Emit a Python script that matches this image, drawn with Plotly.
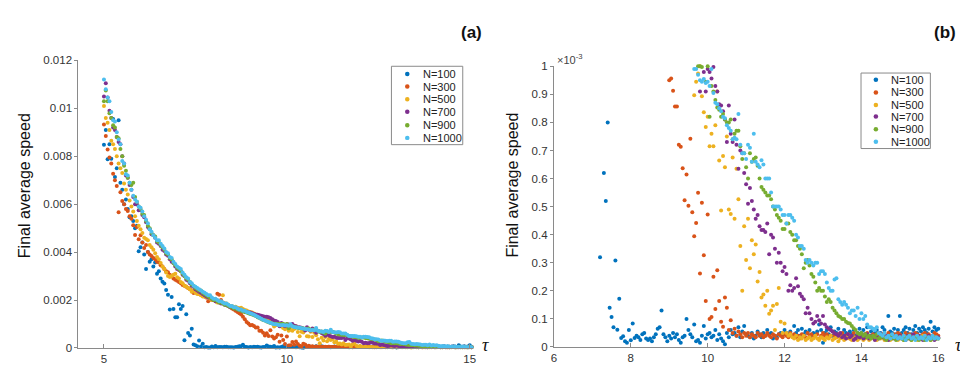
import plotly.graph_objects as go

W, H = 968, 374

# tau sampling grid (5.00 .. 16.00, step 0.05)
tau = [round(5 + 0.05 * i, 2) for i in range(221)]

# Final average speed, in units of 1e-3, one row per unit of tau
speed_N100 = [
    8.48, 9.1, 7.88, 8.5, 7.9, 9.56, 7.14, 7.5, 9.5, 6.9, 6.6, 6.0, 6.2, 5.8, 5.45, 5.5, 5.3, 5.0, 5.1, 4.04,
    4.2, 4.4, 3.9, 3.3, 4.0, 3.6, 3.7, 3.4, 3.57, 3.1, 3.2, 2.9, 2.76, 2.69, 2.42, 2.22, 1.6, 2.13, 1.62, 1.28,
    1.28, 1.82, 1.62, 1.75, 0.32, 1.41, 0.62, 0.52, 0.8, 0.14, 0.107, 0.07, 0.308, 0.061, 0.172, 0.032, 0.038, 0.02, 0.015, 0.06,
    0.024, 0.084, 0.032, 0.04, 0.035, 0.025, 0.045, 0.05, 0.03, 0.025, 0.03, 0.02, 0.035, 0.045, 0.065, 0.07, 0.13, 0.045, 0.035, 0.02,
    0.04, 0.03, 0.05, 0.035, 0.045, 0.025, 0.015, 0.035, 0.04, 0.1, 0.06, 0.045, 0.035, 0.08, 0.02, 0.025, 0.015, 0.04, 0.075, 0.03,
    0.045, 0.05, 0.035, 0.04, 0.06, 0.025, 0.045, 0.03, 0.02, 0.01, 0.05, 0.035, 0.06, 0.045, 0.05, 0.04, 0.07, 0.035, 0.055, 0.075,
    0.045, 0.04, 0.035, 0.05, 0.03, 0.04, 0.055, 0.045, 0.035, 0.05, 0.04, 0.06, 0.045, 0.05, 0.03, 0.04, 0.035, 0.045, 0.05, 0.04,
    0.06, 0.05, 0.045, 0.055, 0.04, 0.075, 0.05, 0.06, 0.04, 0.065, 0.045, 0.055, 0.05, 0.06, 0.04, 0.05, 0.045, 0.055, 0.08, 0.06,
    0.015, 0.05, 0.06, 0.045, 0.07, 0.04, 0.055, 0.05, 0.065, 0.045, 0.04, 0.06, 0.05, 0.035, 0.055, 0.045, 0.06, 0.04, 0.05, 0.065,
    0.05, 0.06, 0.045, 0.07, 0.04, 0.055, 0.065, 0.05, 0.06, 0.045, 0.05, 0.07, 0.06, 0.04, 0.11, 0.055, 0.05, 0.065, 0.045, 0.06,
    0.11, 0.05, 0.06, 0.07, 0.05, 0.065, 0.045, 0.06, 0.075, 0.05, 0.065, 0.055, 0.07, 0.06, 0.05, 0.065, 0.09, 0.055, 0.07, 0.06,
    0.065,
]

speed_N300 = [
    9.33, 8.85, 8.28, 7.95, 7.7, 7.27, 7.0, 6.76, 5.66, 6.5, 6.13, 6.0, 5.8, 5.72, 5.5, 5.39, 5.12, 4.71, 5.05, 4.54,
    4.7, 4.4, 4.17, 4.3, 4.0, 3.9, 3.84, 3.75, 3.7, 3.6, 3.57, 3.45, 3.4, 3.3, 3.2, 3.16, 3.05, 3.0, 2.9, 2.85,
    2.8, 2.75, 2.7, 2.63, 2.6, 2.55, 2.5, 2.45, 2.4, 2.29, 2.35, 2.3, 2.25, 2.22, 2.2, 2.15, 2.1, 1.95, 2.05, 2.0,
    2.0, 1.95, 2.26, 2.22, 2.0, 1.9, 1.85, 1.8, 1.75, 1.7, 1.65, 1.6, 1.55, 1.5, 1.45, 1.4, 1.3, 1.2, 1.08, 1.02,
    0.95, 0.956, 0.913, 0.857, 0.857, 0.72, 0.713, 0.637, 0.523, 0.614, 0.503, 0.742, 0.48, 0.394, 0.442, 0.549, 0.262, 0.514, 0.327, 0.164,
    0.472, 0.1, 0.107, 0.25, 0.135, 0.273, 0.164, 0.09, 0.072, 0.176, 0.14, 0.06, 0.095, 0.05, 0.065, 0.04, 0.055, 0.045, 0.035, 0.05,
    0.04, 0.05, 0.035, 0.045, 0.04, 0.035, 0.05, 0.04, 0.045, 0.035, 0.04, 0.05, 0.04, 0.035, 0.045, 0.04, 0.03, 0.045, 0.04, 0.035,
    0.045, 0.04, 0.035, 0.05, 0.04, 0.045, 0.035, 0.04, 0.03, 0.045, 0.04, 0.035, 0.05, 0.04, 0.045, 0.035, 0.04, 0.045, 0.03, 0.04,
    0.05, 0.04, 0.045, 0.035, 0.04, 0.055, 0.04, 0.035, 0.045, 0.04, 0.05, 0.035, 0.04, 0.045, 0.03, 0.04, 0.05, 0.035, 0.04, 0.045,
    0.04, 0.035, 0.045, 0.05, 0.04, 0.035, 0.045, 0.04, 0.03, 0.05, 0.04, 0.045, 0.035, 0.04, 0.05, 0.04, 0.035, 0.045, 0.04, 0.05,
    0.045, 0.04, 0.035, 0.05, 0.04, 0.045, 0.04, 0.035, 0.05, 0.045, 0.04, 0.035, 0.045, 0.05, 0.04, 0.045, 0.035, 0.04, 0.05, 0.045,
    0.04,
]

speed_N500 = [
    10.1, 9.6, 9.4, 9.1, 8.65, 8.5, 8.3, 8.0, 7.7, 7.5, 7.3, 6.86, 6.6, 6.4, 6.15, 5.9, 5.7, 5.5, 5.3, 5.1,
    4.95, 4.8, 4.6, 4.55, 4.5, 4.3, 4.2, 4.1, 3.95, 3.8, 3.7, 3.55, 3.4, 3.3, 3.15, 3.0, 2.96, 3.0, 3.05, 3.1,
    2.95, 2.9, 2.75, 2.7, 2.6, 2.56, 2.5, 2.45, 2.35, 2.4, 2.3, 2.25, 2.25, 2.2, 2.15, 2.15, 2.1, 2.1, 2.05, 2.0,
    2.0, 1.95, 1.9, 1.95, 1.9, 2.2, 1.85, 1.85, 1.8, 1.75, 1.75, 1.7, 1.72, 1.68, 1.66, 1.68, 1.62, 1.58, 1.56, 1.52,
    1.5, 1.48, 1.44, 1.4, 1.38, 1.34, 1.3, 1.27, 1.24, 1.2, 1.15, 1.1, 1.05, 0.897, 0.945, 0.974, 1.0, 0.893, 0.836, 0.784,
    0.82, 0.715, 0.76, 0.715, 0.79, 0.91, 0.664, 0.486, 0.68, 0.64, 0.75, 0.49, 0.474, 0.675, 0.457, 0.635, 0.526, 0.36, 0.2, 0.43,
    0.31, 0.457, 0.28, 0.38, 0.33, 0.365, 0.233, 0.267, 0.176, 0.187, 0.147, 0.2, 0.118, 0.13, 0.147, 0.06, 0.153, 0.21, 0.09, 0.05,
    0.084, 0.05, 0.04, 0.045, 0.035, 0.03, 0.04, 0.025, 0.035, 0.03, 0.04, 0.025, 0.03, 0.035, 0.025, 0.03, 0.04, 0.03, 0.025, 0.035,
    0.03, 0.025, 0.035, 0.03, 0.04, 0.025, 0.03, 0.035, 0.02, 0.03, 0.035, 0.025, 0.03, 0.04, 0.03, 0.025, 0.035, 0.03, 0.025, 0.03,
    0.035, 0.025, 0.03, 0.04, 0.025, 0.03, 0.035, 0.03, 0.025, 0.035, 0.03, 0.04, 0.025, 0.03, 0.035, 0.025, 0.03, 0.035, 0.03, 0.025,
    0.03, 0.035, 0.025, 0.03, 0.04, 0.03, 0.025, 0.035, 0.03, 0.025, 0.035, 0.03, 0.04, 0.025, 0.03, 0.035, 0.025, 0.03, 0.035, 0.03,
    0.03,
]

speed_N700 = [
    10.5, 11.05, 10.45, 9.9, 9.6, 9.2, 9.1, 8.8, 8.6, 8.5, 8.0, 7.7, 7.2, 7.1, 6.8, 6.6, 6.3, 6.0, 6.0, 5.75,
    5.75, 5.55, 5.45, 5.25, 5.05, 4.95, 4.75, 4.7, 4.6, 4.4, 4.35, 4.25, 4.1, 4.05, 3.9, 3.85, 3.7, 3.6, 3.55, 3.4,
    3.3, 3.25, 3.2, 3.05, 3.0, 2.85, 2.8, 2.7, 2.6, 2.55, 2.45, 2.4, 2.35, 2.3, 2.25, 2.2, 2.15, 2.1, 2.1, 2.05,
    2.0, 1.95, 1.95, 1.9, 1.85, 1.85, 1.8, 1.78, 1.75, 1.7, 1.7, 1.66, 1.65, 1.6, 1.6, 1.56, 1.55, 1.52, 1.5, 1.48,
    1.48, 1.45, 1.42, 1.4, 1.38, 1.36, 1.34, 1.32, 1.3, 1.3, 1.28, 1.25, 1.2, 1.15, 1.12, 1.08, 0.91, 1.04, 0.98, 0.91,
    0.99, 0.98, 0.956, 0.997, 0.93, 0.91, 0.865, 0.86, 0.84, 0.81, 0.73, 0.86, 0.76, 0.73, 0.81, 0.72, 0.635, 0.7, 0.69, 0.62,
    0.58, 0.51, 0.566, 0.52, 0.49, 0.457, 0.47, 0.43, 0.417, 0.417, 0.41, 0.44, 0.33, 0.4, 0.39, 0.35, 0.3, 0.336, 0.3, 0.27,
    0.285, 0.26, 0.2, 0.22, 0.2, 0.21, 0.245, 0.216, 0.19, 0.18, 0.17, 0.12, 0.14, 0.12, 0.1, 0.084, 0.09, 0.11, 0.095, 0.084,
    0.11, 0.08, 0.07, 0.065, 0.06, 0.055, 0.05, 0.045, 0.04, 0.05, 0.035, 0.04, 0.03, 0.045, 0.035, 0.04, 0.025, 0.03, 0.04, 0.035,
    0.04, 0.03, 0.035, 0.045, 0.03, 0.04, 0.035, 0.025, 0.04, 0.03, 0.045, 0.035, 0.03, 0.04, 0.025, 0.035, 0.04, 0.03, 0.035, 0.03,
    0.04, 0.03, 0.035, 0.025, 0.04, 0.03, 0.035, 0.045, 0.03, 0.035, 0.04, 0.03, 0.025, 0.035, 0.03, 0.04, 0.03, 0.035, 0.025, 0.03,
    0.035,
]

speed_N900 = [
    10.3, 10.75, 10.3, 9.8, 9.6, 9.3, 9.2, 8.8, 8.75, 8.3, 8.0, 7.6, 7.4, 7.1, 6.9, 6.8, 6.9, 6.3, 6.1, 5.9,
    5.8, 5.6, 5.55, 5.3, 5.1, 5.0, 4.8, 4.7, 4.65, 4.45, 4.4, 4.3, 4.2, 4.1, 3.95, 3.9, 3.75, 3.7, 3.55, 3.45,
    3.35, 3.3, 3.2, 3.1, 3.0, 2.9, 2.85, 2.75, 2.65, 2.6, 2.5, 2.45, 2.4, 2.4, 2.3, 2.25, 2.2, 2.15, 2.1, 2.05,
    2.0, 2.0, 1.95, 1.9, 1.9, 1.85, 1.8, 1.8, 1.75, 1.72, 1.7, 1.65, 1.65, 1.6, 1.58, 1.55, 1.52, 1.5, 1.48, 1.45,
    1.42, 1.4, 1.36, 1.33, 1.28, 1.25, 1.21, 1.17, 1.14, 1.1, 1.07, 1.04, 1.02, 1.01, 1.01, 1.0, 1.0, 0.997, 1.01, 0.945,
    1.0, 0.82, 0.93, 0.91, 0.88, 0.853, 0.845, 0.82, 0.83, 0.81, 0.8, 0.8, 0.81, 0.74, 0.76, 0.77, 0.77, 0.715, 0.67, 0.69,
    0.64, 0.6, 0.69, 0.66, 0.67, 0.675, 0.646, 0.6, 0.57, 0.56, 0.55, 0.54, 0.54, 0.526, 0.5, 0.49, 0.47, 0.46, 0.45, 0.42,
    0.42, 0.44, 0.44, 0.41, 0.4, 0.38, 0.38, 0.36, 0.35, 0.33, 0.28, 0.3, 0.31, 0.29, 0.26, 0.25, 0.23, 0.2, 0.21, 0.2,
    0.2, 0.18, 0.16, 0.17, 0.16, 0.14, 0.13, 0.12, 0.11, 0.107, 0.1, 0.1, 0.09, 0.085, 0.084, 0.075, 0.067, 0.06, 0.05, 0.045,
    0.05, 0.04, 0.045, 0.035, 0.04, 0.03, 0.04, 0.035, 0.045, 0.03, 0.035, 0.04, 0.03, 0.025, 0.035, 0.04, 0.03, 0.035, 0.025, 0.03,
    0.035, 0.03, 0.025, 0.035, 0.03, 0.04, 0.025, 0.03, 0.035, 0.03, 0.025, 0.035, 0.03, 0.025, 0.03, 0.035, 0.025, 0.03, 0.035, 0.03,
    0.03,
]

speed_N1000 = [
    11.2, 10.8, 10.45, 10.3, 9.85, 9.5, 9.45, 9.0, 8.7, 8.5, 7.8, 7.7, 7.25, 7.2, 6.9, 6.6, 6.35, 6.2, 6.1, 5.9,
    5.85, 5.7, 5.5, 5.35, 5.2, 4.95, 4.85, 4.7, 4.6, 4.5, 4.5, 4.35, 4.25, 4.15, 4.0, 3.95, 3.8, 3.75, 3.6, 3.5,
    3.4, 3.35, 3.3, 3.15, 3.05, 2.95, 2.9, 2.75, 2.7, 2.6, 2.55, 2.5, 2.45, 2.4, 2.35, 2.3, 2.25, 2.2, 2.2, 2.1,
    2.05, 2.05, 2.0, 1.95, 1.95, 1.9, 1.85, 1.85, 1.8, 1.75, 1.75, 1.7, 1.7, 1.65, 1.6, 1.6, 1.55, 1.55, 1.5, 1.48,
    1.45, 1.42, 1.38, 1.34, 1.3, 1.26, 1.22, 1.18, 1.14, 1.11, 1.08, 1.05, 1.02, 0.99, 0.99, 0.97, 0.95, 0.945, 0.955, 0.94,
    0.945, 0.93, 0.99, 0.905, 0.87, 0.865, 0.85, 0.84, 0.82, 0.815, 0.79, 0.78, 0.77, 0.74, 0.745, 0.74, 0.83, 0.72, 0.69, 0.69,
    0.67, 0.72, 0.71, 0.66, 0.76, 0.66, 0.65, 0.64, 0.665, 0.65, 0.6, 0.6, 0.6, 0.55, 0.5, 0.5, 0.5, 0.5, 0.49, 0.47,
    0.47, 0.44, 0.47, 0.47, 0.46, 0.45, 0.4, 0.39, 0.36, 0.36, 0.35, 0.31, 0.3, 0.31, 0.3, 0.29, 0.3, 0.3, 0.26, 0.27,
    0.27, 0.26, 0.23, 0.21, 0.2, 0.2, 0.24, 0.245, 0.17, 0.16, 0.15, 0.16, 0.15, 0.14, 0.12, 0.13, 0.13, 0.11, 0.14, 0.1,
    0.12, 0.1, 0.11, 0.08, 0.07, 0.07, 0.065, 0.06, 0.07, 0.05, 0.045, 0.04, 0.05, 0.035, 0.04, 0.03, 0.045, 0.035, 0.04, 0.03,
    0.035, 0.03, 0.04, 0.025, 0.035, 0.04, 0.03, 0.035, 0.025, 0.04, 0.03, 0.035, 0.03, 0.04, 0.025, 0.035, 0.03, 0.04, 0.03, 0.035,
    0.03,
]

series_names = ["N=100", "N=300", "N=500", "N=700", "N=900", "N=1000"]
series_values = [speed_N100, speed_N300, speed_N500, speed_N700, speed_N900, speed_N1000]
colors = ["#0072BD", "#D95319", "#EDB120", "#7E2F8E", "#77AC30", "#4DBEEE"]

for v in series_values:
    assert len(v) == len(tau)

a_yticks = [0, 0.002, 0.004, 0.006, 0.008, 0.01, 0.012]
a_yticktext = ["0", "0.002", "0.004", "0.006", "0.008", "0.01", "0.012"]
b_yticks = [0, 0.0001, 0.0002, 0.0003, 0.0004, 0.0005, 0.0006, 0.0007, 0.0008, 0.0009, 0.001]
b_yticktext = ["0", "0.1", "0.2", "0.3", "0.4", "0.5", "0.6", "0.7", "0.8", "0.9", "1"]


def px(x):
    return x / W


def py(y):
    return 1 - y / H


A_X = (68, 466)
A_Y = (48, 345)
B_X = (548, 936)
B_Y = (54, 344)
A_XRANGE = [4.3, 15.08]
B_XRANGE = [6, 16]

fig = go.Figure()

for name, vals, col in zip(series_names, series_values, colors):
    speed = [v * 1e-3 for v in vals]
    xa = [t for t in tau if A_XRANGE[0] <= t <= A_XRANGE[1]]
    ya = [s for t, s in zip(tau, speed) if A_XRANGE[0] <= t <= A_XRANGE[1]]
    fig.add_trace(go.Scatter(x=xa, y=ya, mode="markers", name=name, showlegend=False,
                             marker=dict(size=4, color=col, line=dict(width=0)),
                             cliponaxis=False, xaxis="x", yaxis="y"))
for name, vals, col in zip(series_names, series_values, colors):
    speed = [v * 1e-3 for v in vals]
    keep = [(t, s) for t, s in zip(tau, speed) if B_XRANGE[0] <= t <= B_XRANGE[1] and s <= 0.001]
    fig.add_trace(go.Scatter(x=[k[0] for k in keep], y=[k[1] for k in keep], mode="markers",
                             name=name, showlegend=False,
                             marker=dict(size=4, color=col, line=dict(width=0)),
                             cliponaxis=False, xaxis="x2", yaxis="y2"))

axis_line = "#8a8a8a"
tick_font = dict(family="Liberation Sans, Arial, sans-serif", size=11.5, color="#333333")

common_x = dict(showline=True, linecolor=axis_line, linewidth=1, showgrid=False, zeroline=False,
                ticks="inside", ticklen=4, tickcolor=axis_line, tickfont=tick_font)
common_y = dict(showline=True, linecolor=axis_line, linewidth=1, showgrid=False, zeroline=False,
                ticks="outside", ticklen=3, tickcolor=axis_line, tickfont=tick_font)

fig.update_layout(
    width=W, height=H, autosize=False,
    margin=dict(l=0, r=0, t=0, b=0),
    paper_bgcolor="white", plot_bgcolor="white",
    showlegend=False,
    xaxis=dict(domain=[px(A_X[0]), px(A_X[1])], range=A_XRANGE, tickvals=[5, 10, 15],
               anchor="y", **common_x),
    yaxis=dict(domain=[py(A_Y[1]), py(A_Y[0])], range=[0, 0.012], tickvals=a_yticks,
               ticktext=a_yticktext, anchor="x", **common_y),
    xaxis2=dict(domain=[px(B_X[0]), px(B_X[1])], range=B_XRANGE, tickvals=[6, 8, 10, 12, 14, 16],
                anchor="y2", **common_x),
    yaxis2=dict(domain=[py(B_Y[1]), py(B_Y[0])], range=[0, 0.001], tickvals=b_yticks,
                ticktext=b_yticktext, anchor="x2", **common_y),
)

annotations = []
shapes = []
title_font = dict(family="Liberation Sans, Arial, sans-serif", size=16, color="#111111")
annotations.append(dict(text="Final average speed", x=px(13), y=py(177), xref="paper", yref="paper",
                        textangle=-90, showarrow=False, font=title_font, xanchor="center", yanchor="middle"))
annotations.append(dict(text="Final average speed", x=px(506), y=py(177), xref="paper", yref="paper",
                        textangle=-90, showarrow=False, font=title_font, xanchor="center", yanchor="middle"))
tau_font = dict(family="Liberation Serif, serif", size=18, color="#111111")
annotations.append(dict(text="<i>τ</i>", x=px(479), y=py(342), xref="paper", yref="paper",
                        showarrow=False, font=tau_font, xanchor="center", yanchor="middle"))
annotations.append(dict(text="<i>τ</i>", x=px(956), y=py(342), xref="paper", yref="paper",
                        showarrow=False, font=tau_font, xanchor="center", yanchor="middle"))
panel_font = dict(family="Liberation Sans, Arial, sans-serif", size=17, color="#111111")
annotations.append(dict(text="<b>(a)</b>", x=px(465), y=py(19), xref="paper", yref="paper",
                        showarrow=False, font=panel_font, xanchor="center", yanchor="middle"))
annotations.append(dict(text="<b>(b)</b>", x=px(943), y=py(19), xref="paper", yref="paper",
                        showarrow=False, font=panel_font, xanchor="center", yanchor="middle"))
annotations.append(dict(text="×10<sup>-3</sup>", x=px(549), y=py(47), xref="paper", yref="paper",
                        showarrow=False, font=dict(family="Liberation Sans, Arial, sans-serif", size=11, color="#444444"),
                        xanchor="left", yanchor="middle"))

legend_font = dict(family="Liberation Sans, Arial, sans-serif", size=11, color="#222222")


def add_legend(box, mx, tx, rows):
    x0, y0, x1, y1 = box
    shapes.append(dict(type="rect", xref="paper", yref="paper", x0=px(x0), x1=px(x1), y0=py(y1), y1=py(y0),
                       line=dict(color="#8a8a8a", width=1), fillcolor="white", layer="above"))
    for name, col, yy in zip(series_names, colors, rows):
        r = 2.3
        shapes.append(dict(type="circle", xref="paper", yref="paper", x0=px(mx - r), x1=px(mx + r),
                           y0=py(yy + r), y1=py(yy - r), fillcolor=col, line=dict(width=0), layer="above"))
        annotations.append(dict(text=name, x=px(tx), y=py(yy), xref="paper", yref="paper", showarrow=False,
                                font=legend_font, xanchor="left", yanchor="middle"))


add_legend((384, 54, 456, 135), 400, 414, [62, 75, 88, 101, 115, 128])
add_legend((858, 61, 928, 139), 873, 886, [68, 81, 94, 106, 119, 132])

fig.update_layout(annotations=annotations, shapes=shapes)

fig.write_html("out.html")
